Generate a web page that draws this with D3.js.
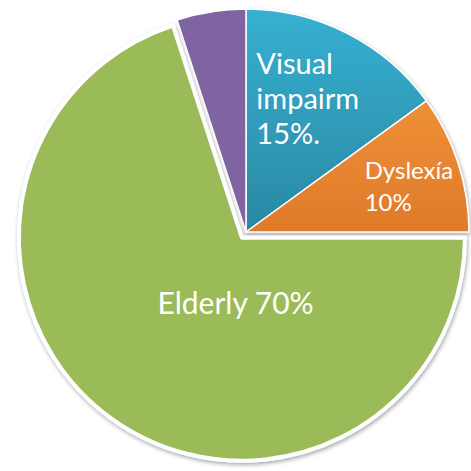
<!DOCTYPE html>
<html lang="en">
<head>
<meta charset="UTF-8">
<title>Pie</title>
<script src="https://cdnjs.cloudflare.com/ajax/libs/d3/7.8.5/d3.min.js"></script>
<style>
  body { margin: 0; background: #fff; }
  .lbl { fill: #fff; font-family: Lato, "Open Sans", sans-serif; }
</style>
</head>
<body>
<svg width="471" height="471"></svg>
<script>
// slice data (clockwise from 12 o'clock)
const names  = ["Visual impairment", "Dyslexía", "Elderly", "Other"];
const values = [15, 10, 70, 5];
const labels = [["Visual", "impairm", "15%."], ["Dyslexía", "10%"], ["Elderly 70%"], []];

const svg = d3.select("svg"),
    cx = 246, cy = 232, r = 223;

const defs = svg.append("defs");

// gradients for the two shaded slices
const grads = [
    {id: "gBlue", top: "#37b0d2", bot: "#2a88a2"},
    {id: "gOrange", top: "#f99f40", bot: "#df7a2a"}
];
grads.forEach(g => {
    const lg = defs.append("linearGradient").attr("id", g.id)
        .attr("gradientUnits", "userSpaceOnUse")
        .attr("x1", 0).attr("y1", -r).attr("x2", 0).attr("y2", 0);
    lg.append("stop").attr("offset", "0%").attr("stop-color", g.top);
    lg.append("stop").attr("offset", "100%").attr("stop-color", g.bot);
});

const sh = defs.append("filter").attr("id", "shadow")
    .attr("x", "-10%").attr("y", "-10%").attr("width", "120%").attr("height", "120%");
sh.append("feDropShadow").attr("dx", 1).attr("dy", 2).attr("stdDeviation", 2)
    .attr("flood-color", "#000").attr("flood-opacity", 0.35);

const color = d3.scaleOrdinal()
    .domain(names)
    .range(["url(#gBlue)", "url(#gOrange)", "#9bbb59", "#8064a2"]);

const pie = d3.pie().sort(null).value(d => d)
    .startAngle(0).endAngle(2 * Math.PI);
const arcs = pie(values);

const arc = d3.arc().innerRadius(0).outerRadius(r);

// exploded slice offsets
const explode = [0, 0, 7, 0];
const offset = (d, i) => {
    const a = (d.startAngle + d.endAngle) / 2;
    return [explode[i] * Math.sin(a), -explode[i] * Math.cos(a)];
};

const g = svg.append("g").attr("transform", `translate(${cx},${cy})`);

// draw exploded slice last so its white rim sits on top
const order = [0, 1, 3, 2];
order.forEach(i => {
    const d = arcs[i], o = offset(d, i);
    g.append("path")
        .attr("transform", `translate(${o[0]},${o[1]})`)
        .attr("d", arc(d))
        .attr("fill", color(names[i]))
        .attr("stroke", "#fff")
        .attr("stroke-width", explode[i] ? 4 : 1.5)
        .attr("stroke-linejoin", "round")
        .attr("filter", i === 3 ? null : "url(#shadow)");
});

// labels
const lblStyle = [
    {rf: 0.62, size: 29, lh: 35, nudge: [-1, -10]},
    {rf: 0.74, size: 24, lh: 32, nudge: [6, 6]},
    {rf: 0.30, size: 30, lh: 34, nudge: [33, 12]},
    {rf: 0.7, size: 22, lh: 30, nudge: [0, 0]}
];
arcs.forEach((d, i) => {
    if (!labels[i].length) return;
    const s = lblStyle[i], o = offset(d, i);
    const a = (d.startAngle + d.endAngle) / 2;
    let x = o[0] + s.rf * r * Math.sin(a) + s.nudge[0];
    let y = o[1] - s.rf * r * Math.cos(a) + s.nudge[1];
    const t = g.append("text").attr("class", "lbl").style("font-size", s.size + "px");
    labels[i].forEach((line, k) => {
        t.append("tspan").attr("x", 0).attr("dy", k ? s.lh : 0).text(line);
    });
    const bb = t.node().getBBox();
    const h = (labels[i].length - 1) * s.lh;
    // left-aligned block centred on the anchor point
    t.attr("transform", `translate(${x - bb.width / 2},${y - h / 2 + s.size * 0.35})`);
});
</script>
</body>
</html>
